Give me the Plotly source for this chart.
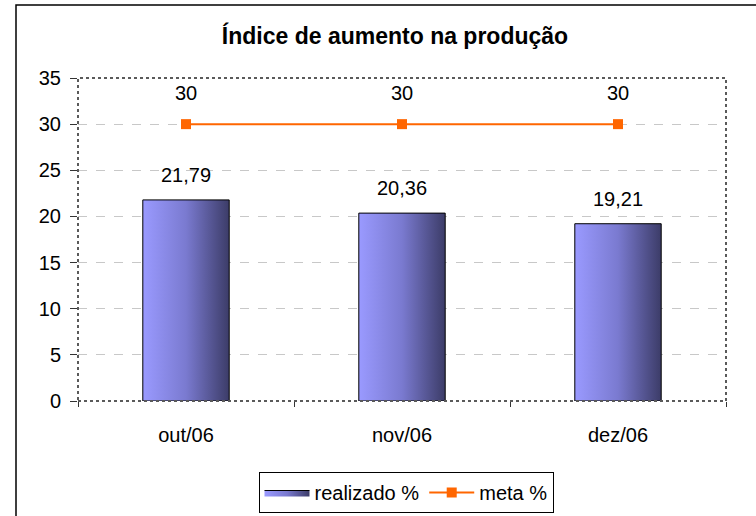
import plotly.graph_objects as go

categories = ["out/06", "nov/06", "dez/06"]
realizado = [21.79, 20.36, 19.21]
meta = [30, 30, 30]
y_ticks = [0, 5, 10, 15, 20, 25, 30, 35]

W, H = 756, 516
L, R, T, B = 78, 30, 78, 115
FONT = "Liberation Sans, Arial, sans-serif"
FS = 20

def fmt(v):
    if v == int(v):
        return str(int(v))
    return f"{v:.2f}".replace(".", ",")

fig = go.Figure()
half = 0.2
annotations = []
for i, v in enumerate(realizado):
    fig.add_trace(go.Scatter(
        x=[i - half, i - half, i + half, i + half, i - half],
        y=[0, v, v, 0, 0],
        mode="lines", fill="toself",
        fillcolor="#7777cc",
        fillgradient=dict(type="horizontal",
                          colorscale=[[0, "#9a9aff"], [0.5, "#7a7ad0"], [1, "#3c3c68"]]),
        line=dict(color="#000000", width=1),
        name="realizado %", legendgroup="r", showlegend=(i == 0),
        hoverinfo="skip",
    ))
    annotations.append(dict(x=i, y=v, xref="x", yref="y", text=fmt(v), showarrow=False,
                            yshift=25, font=dict(family=FONT, size=FS, color="#000")))

fig.add_trace(go.Scatter(
    x=list(range(len(categories))), y=meta, mode="lines+markers",
    line=dict(color="#ff6600", width=2),
    marker=dict(symbol="square", size=10, color="#ff6600"),
    name="meta %", cliponaxis=False,
))
for i, v in enumerate(meta):
    annotations.append(dict(x=i, y=v, xref="x", yref="y", text=fmt(v), showarrow=False,
                            yshift=31, font=dict(family=FONT, size=FS, color="#000")))

fig.update_layout(
    width=W, height=H,
    margin=dict(l=L, r=R, t=T, b=B, autoexpand=False),
    paper_bgcolor="white", plot_bgcolor="white",
    font=dict(family=FONT, size=FS, color="#000"),
    title=dict(text="<b>Índice de aumento na produção</b>",
               x=(395 - L) / (W - L - R), xref="paper", xanchor="center",
               y=1 - 36 / H, yref="container", yanchor="middle",
               font=dict(family=FONT, size=23, color="#000")),
    xaxis=dict(range=[-0.5, len(categories) - 0.5], tickvals=list(range(len(categories))),
               ticktext=categories, ticks="", showgrid=False, zeroline=False,
               showline=False, ticklabelstandoff=20,
               minor=dict(tickmode="array", tickvals=[-0.5, 0.5, 1.5, 2.5], ticks="outside",
                          ticklen=5, tickcolor="#333333", tickwidth=1, showgrid=False),
               fixedrange=True),
    yaxis=dict(range=[0, 35], tickvals=y_ticks, ticks="outside", ticklen=7,
               tickcolor="#333333", tickwidth=1, showgrid=True, gridcolor="#c8c8c8",
               griddash="dash", gridwidth=1, zeroline=False, showline=False,
               ticklabelstandoff=5, fixedrange=True),
    showlegend=True,
    legend=dict(orientation="h", x=(406 - L) / (W - L - R), xanchor="center",
                y=(H - B - 472) / (H - T - B), yanchor="top",
                bordercolor="#000", borderwidth=1, bgcolor="white",
                font=dict(family=FONT, size=FS, color="#000"),
                itemwidth=45, traceorder="normal"),
    annotations=annotations,
    shapes=[
        dict(type="rect", xref="paper", yref="paper", x0=0, x1=1, y0=0, y1=1,
             line=dict(color="#5a5a5a", width=2, dash="3px,3px"), layer="above"),
        dict(type="rect", xref="paper", yref="paper",
             x0=(16 - L) / (W - L - R), x1=(W + 10 - L) / (W - L - R),
             y0=(H - B - (H + 10)) / (H - T - B), y1=(H - B - 5) / (H - T - B),
             line=dict(color="#000", width=1.5), fillcolor="rgba(0,0,0,0)", layer="below"),
    ],
)

fig.write_html("out.html", config={"displayModeBar": False},
               post_script="document.body.style.margin='0';document.body.style.overflow='hidden';")
